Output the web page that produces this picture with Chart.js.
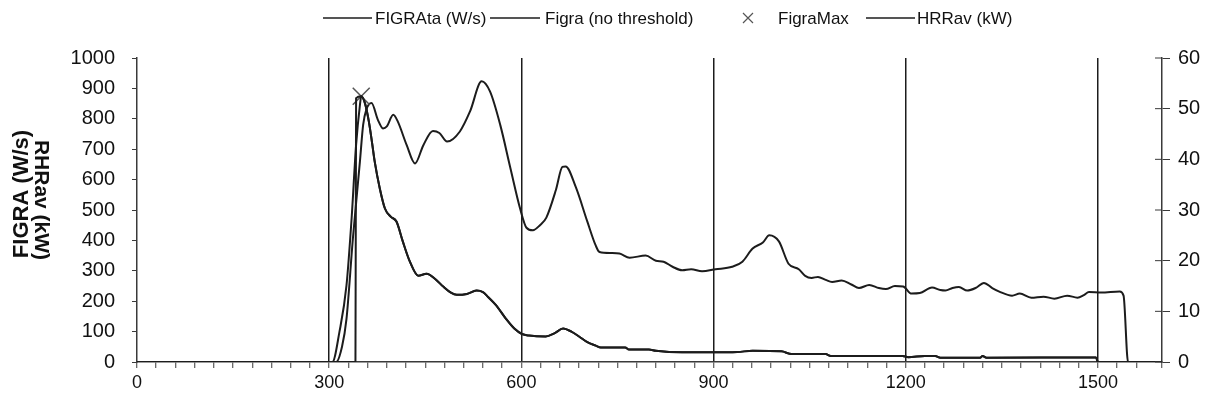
<!DOCTYPE html>
<html>
<head>
<meta charset="utf-8">
<script src="https://cdn.jsdelivr.net/npm/chart.js@4.4.0/dist/chart.umd.min.js"></script>
<style>
  html, body { margin: 0; background: #fff; }
</style>
</head>
<body>
<canvas id="c" width="1208" height="407"></canvas>
<script>
// time (s) and FIGRA (W/s), no threshold
const figraTime = [0, 300, 305, 316, 327, 335, 342, 348, 350, 356, 362, 367, 371, 379, 387, 396, 405, 415, 426, 439,
  452, 465, 478, 490, 499, 515, 530, 540, 548, 560, 576, 589, 601, 612, 638, 652, 665, 678, 690, 703,
  716, 724, 762, 768, 799, 810, 851, 898, 937, 961, 1006, 1022, 1075, 1083, 1195, 1204, 1230, 1246, 1254, 1316,
  1320, 1326, 1497, 1500, 1600];
const figraValue = [0, 0, 0, 99, 252, 472, 714, 846, 874, 850, 790, 720, 660, 571, 505, 478, 462, 396, 330, 284,
  290, 274, 248, 228, 221, 224, 235, 230, 214, 188, 142, 110, 92, 87, 84, 95, 110, 100, 84, 65,
  54, 48, 48, 41, 41, 37, 32, 32, 33, 37, 35, 26, 26, 20, 20, 16, 20, 20, 14, 14,
  20, 14, 15, 0, 0];

// FIGRAta switches on at the threshold time
const thresholdTime = 341;
const thresholdValue = 868;

// FigraMax marker
const figraMaxTime = [350];
const figraMaxValue = [874];

// time (s) and HRRav (kW)
const hrrTime = [0, 300, 311, 320, 327, 337, 348, 353, 358, 366, 376, 384, 390, 400, 407, 421, 434, 447, 462, 472,
  484, 504, 520, 538, 551, 567, 583, 598, 608, 618, 629, 639, 654, 664, 669, 685, 703, 716, 722, 740,
  753, 769, 794, 810, 822, 836, 851, 865, 882, 903, 929, 945, 961, 977, 987, 1002, 1017, 1033, 1043, 1053,
  1063, 1075, 1085, 1100, 1115, 1127, 1143, 1158, 1169, 1183, 1196, 1209, 1222, 1241, 1254, 1262, 1273, 1283, 1296, 1309,
  1322, 1335, 1346, 1366, 1378, 1396, 1415, 1432, 1452, 1468, 1478, 1486, 1505, 1534, 1540, 1547, 1600];
const hrrValue = [0, 0, 0, 3, 8.5, 24.4, 39.6, 46.8, 49.8, 51.1, 47.8, 46.1, 46.5, 48.8, 47.5, 42.8, 39.2, 42.8, 45.6, 45.2,
  43.5, 45.5, 49.5, 55.4, 53.4, 46.8, 38.2, 30.3, 26.5, 26.0, 27, 28.5, 34, 38.5, 38.6, 34.5, 27.7, 23.0, 21.7, 21.5,
  21.4, 20.6, 21.0, 20.0, 19.8, 18.8, 18.1, 18.3, 17.9, 18.3, 18.8, 19.8, 22.4, 23.6, 25, 23.8, 19.4, 18.3, 17.0, 16.6,
  16.8, 16.2, 15.8, 16.1, 15.3, 14.6, 15.2, 14.6, 14.4, 15.0, 14.9, 13.5, 13.6, 14.7, 14.2, 14.1, 14.6, 14.8, 14.1, 14.6,
  15.6, 14.6, 13.9, 13.1, 13.5, 12.7, 12.9, 12.5, 13.1, 12.7, 13.2, 13.8, 13.7, 13.9, 13.1, 0, 0];

const xTickLabels = [0, 300, 600, 900, 1200, 1500];
const legendLabels = ['FIGRAta (W/s)', 'Figra (no threshold)', 'FigraMax', 'HRRav (kW)'];
const leftTitle = 'FIGRA (W/s)';
const leftTitle2 = 'RHRav (kW)';

const toPoints = (xs, ys) => xs.map((x, i) => ({ x, y: ys[i] }));

const figraPts = toPoints(figraTime, figraValue);
const figraTaPts = [{ x: 0, y: 0 }, { x: thresholdTime, y: 0 }, { x: thresholdTime + 1, y: thresholdValue }]
  .concat(figraPts.filter(p => p.x >= figraMaxTime[0]));

const INK = '#1c1c1c';
const AXIS = '#3a3a3a';
const FONT = '"Liberation Sans", Arial, sans-serif';

// legend + rotated axis titles + right axis inner ticks
const decor = {
  id: 'decor',
  afterDraw(chart) {
    const ctx = chart.ctx;
    ctx.save();
    ctx.strokeStyle = INK;
    ctx.fillStyle = '#111';
    ctx.lineWidth = 1.5;
    ctx.font = '17px ' + FONT;
    ctx.textBaseline = 'middle';
    const ly = 18;
    const items = [
      { kind: 'line', x0: 323, x1: 372, tx: 375 },
      { kind: 'line', x0: 490, x1: 540, tx: 545 },
      { kind: 'cross', x0: 748, tx: 778 },
      { kind: 'line', x0: 866, x1: 915, tx: 917 }
    ];
    items.forEach((it, i) => {
      if (it.kind === 'line') {
        ctx.beginPath();
        ctx.moveTo(it.x0, ly);
        ctx.lineTo(it.x1, ly);
        ctx.stroke();
      } else {
        ctx.save();
        ctx.strokeStyle = '#555';
        ctx.lineWidth = 1.2;
        ctx.beginPath();
        ctx.moveTo(it.x0 - 5, ly - 5); ctx.lineTo(it.x0 + 5, ly + 5);
        ctx.moveTo(it.x0 - 5, ly + 5); ctx.lineTo(it.x0 + 5, ly - 5);
        ctx.stroke();
        ctx.restore();
      }
      ctx.fillText(legendLabels[i], it.tx, ly + 1);
    });

    // y titles
    ctx.font = 'bold 22px ' + FONT;
    ctx.textAlign = 'center';
    ctx.save();
    ctx.translate(22, 194);
    ctx.rotate(-Math.PI / 2);
    ctx.fillText(leftTitle, 0, 0);
    ctx.restore();
    ctx.font = 'bold 21px ' + FONT;
    ctx.save();
    ctx.translate(41, 200);
    ctx.rotate(Math.PI / 2);
    ctx.fillText(leftTitle2, 0, 0);
    ctx.restore();

    // right axis ticks cross the axis line
    const y1 = chart.scales.y1;
    ctx.strokeStyle = AXIS;
    ctx.lineWidth = 1;
    y1.ticks.forEach(t => {
      const py = y1.getPixelForValue(t.value);
      ctx.beginPath();
      ctx.moveTo(y1.left - 7, py);
      ctx.lineTo(y1.left, py);
      ctx.stroke();
    });
    ctx.restore();
  }
};

new Chart(document.getElementById('c'), {
  type: 'line',
  data: {
    datasets: [
      {
        label: legendLabels[0],
        data: figraTaPts,
        yAxisID: 'y',
        borderColor: INK,
        borderWidth: 2,
        pointRadius: 0,
        cubicInterpolationMode: 'monotone'
      },
      {
        label: legendLabels[1],
        data: figraPts,
        yAxisID: 'y',
        borderColor: INK,
        borderWidth: 2,
        pointRadius: 0,
        cubicInterpolationMode: 'monotone'
      },
      {
        label: legendLabels[2],
        data: toPoints(figraMaxTime, figraMaxValue),
        yAxisID: 'y',
        showLine: false,
        pointStyle: 'crossRot',
        pointRadius: 12,
        pointBorderWidth: 1.5,
        borderColor: '#555',
        backgroundColor: '#555'
      },
      {
        label: legendLabels[3],
        data: toPoints(hrrTime, hrrValue),
        yAxisID: 'y1',
        borderColor: INK,
        borderWidth: 2,
        pointRadius: 0,
        cubicInterpolationMode: 'monotone'
      }
    ]
  },
  options: {
    responsive: false,
    animation: false,
    devicePixelRatio: 1,
    layout: { padding: { top: 58 } },
    plugins: { legend: { display: false }, tooltip: { enabled: false } },
    scales: {
      x: {
        type: 'linear',
        position: 'bottom',
        min: 0,
        max: 1600,
        afterFit: s => { s.height = 45; },
        ticks: {
          stepSize: 30,
          autoSkip: false,
          maxRotation: 0,
          padding: 4,
          color: '#111',
          font: { family: FONT, size: 18 },
          callback: v => xTickLabels.includes(v) ? String(v) : ''
        },
        grid: {
          color: c => (c.tick && c.tick.value % 300 === 0 && c.tick.value > 0 && c.tick.value < 1600) ? INK : 'rgba(0,0,0,0)',
          lineWidth: 1.5,
          drawTicks: true,
          tickLength: 6,
          tickColor: AXIS,
          tickWidth: 1
        },
        border: { display: true, color: AXIS, width: 1.5 }
      },
      y: {
        position: 'left',
        min: 0,
        max: 1000,
        afterFit: s => { s.width = 137; },
        ticks: {
          stepSize: 100,
          padding: 17,
          color: '#111',
          font: { family: FONT, size: 20 },
          callback: v => String(v)
        },
        grid: { drawOnChartArea: false, tickLength: 5, tickColor: AXIS },
        border: { display: true, color: AXIS, width: 1.5 }
      },
      y1: {
        position: 'right',
        min: 0,
        max: 60,
        afterFit: s => { s.width = 46; },
        ticks: {
          stepSize: 10,
          padding: 8,
          color: '#111',
          font: { family: FONT, size: 20 },
          callback: v => String(v)
        },
        grid: { drawOnChartArea: false, tickLength: 8, tickColor: AXIS },
        border: { display: true, color: AXIS, width: 1.5 }
      }
    }
  },
  plugins: [decor]
});
</script>
</body>
</html>
